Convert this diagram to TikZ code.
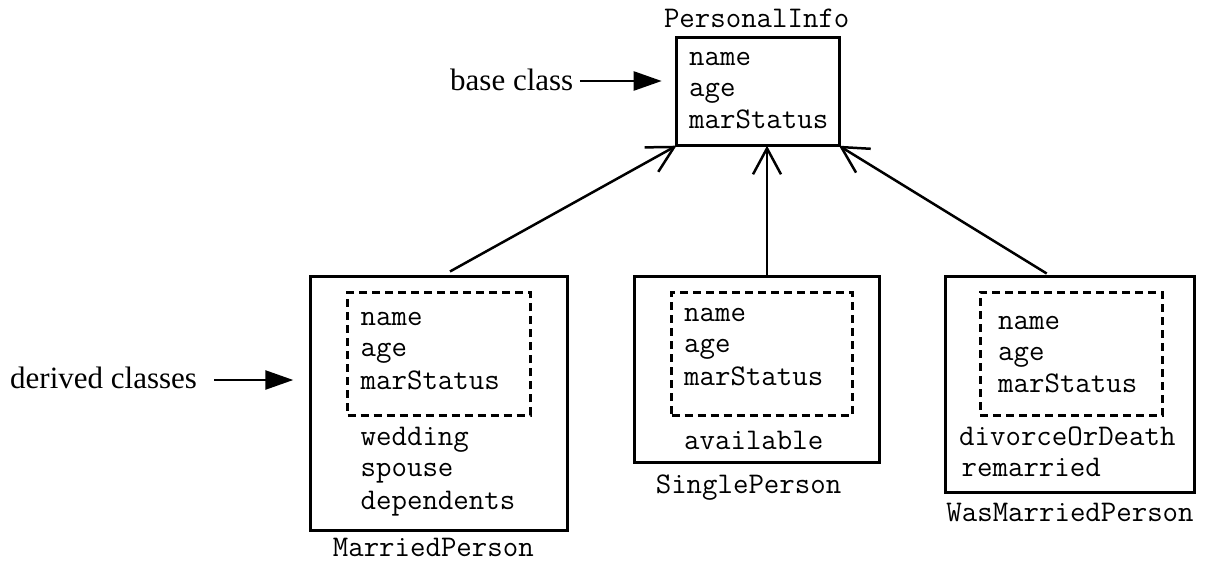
\documentclass[tikz,border=0pt]{standalone}
\usepackage{fontspec}
\setmainfont{Liberation Serif}
\usetikzlibrary{arrows.meta}

\begin{document}
\begin{tikzpicture}[x=1pt,y=-1pt,
  classbox/.style={draw, line width=3pt, inner sep=0pt, outer sep=0pt},
  inherited/.style={draw, line width=3pt, dash pattern=on 8pt off 5pt,
                    inner sep=0pt, outer sep=0pt},
  attr/.style={font=\ttfamily\fontsize{30}{34}\selectfont, anchor=base west, inner sep=0pt},
  cname/.style={font=\ttfamily\fontsize{30}{34}\selectfont, anchor=base, inner sep=0pt},
  note/.style={font=\fontsize{31}{36}\selectfont, anchor=base west, inner sep=0pt},
  isa/.style={line width=2.5pt, -{Straight Barb[length=26pt,width=28pt]}},
  pointer/.style={line width=2.5pt, -{Triangle[length=28pt,width=19pt]}}]

\useasboundingbox (0,0) rectangle (1205,565);

% base class
\node[classbox, minimum width=162.5pt, minimum height=108.7pt] (pi) at (757.75,91.35) {};
\node[cname] (piname) at (756.7,27) {PersonalInfo};
\node[attr] (pi1) at (689,65) {name};
\node[attr] (pi2) at (689,96.7) {age};
\node[attr] (pi3) at (689,128.3) {marStatus};

% MarriedPerson
\node[classbox, minimum width=256.6pt, minimum height=254pt] (mp) at (439,403) {};
\node[inherited, minimum width=182.3pt, minimum height=122.7pt] (mpin) at (438.85,353.65) {};
\node[attr] (mp1) at (360.5,325) {name};
\node[attr] (mp2) at (360.5,356.7) {age};
\node[attr] (mp3) at (360.5,389.3) {marStatus};
\node[attr] (mp4) at (360.5,445) {wedding};
\node[attr] (mp5) at (360.5,476.7) {spouse};
\node[attr] (mp6) at (360.5,509.3) {dependents};
\node[cname] (mpname) at (433.3,556.7) {MarriedPerson};

% SinglePerson
\node[classbox, minimum width=245.3pt, minimum height=186.7pt] (sp) at (756.65,369.35) {};
\node[inherited, minimum width=180.6pt, minimum height=122.7pt] (spin) at (762,353.65) {};
\node[attr] (sp1) at (684,321) {name};
\node[attr] (sp2) at (684,352.7) {age};
\node[attr] (sp3) at (684,385) {marStatus};
\node[attr] (sp4) at (684,449.3) {available};
\node[cname] (spname) at (748.5,493.3) {SinglePerson};

% WasMarriedPerson
\node[classbox, minimum width=248.3pt, minimum height=216.3pt] (wmp) at (1069.85,384.15) {};
\node[inherited, minimum width=182.7pt, minimum height=122.7pt] (wmpin) at (1071.35,353.65) {};
\node[attr] (wmp1) at (998,329) {name};
\node[attr] (wmp2) at (998,360.7) {age};
\node[attr] (wmp3) at (998,392.7) {marStatus};
\node[attr] (wmp4) at (959,445) {divorceOrDeath};
\node[attr] (wmp5) at (961.5,476.7) {remarried};
\node[cname] (wmpname) at (1070,521.7) {WasMarriedPerson};

% inheritance links
\draw[isa] ([shift={(139.3,-4.5)}]mp.north west) -- (pi.south west);
\draw[isa] ([xshift=10.35pt]sp.north) -- ([xshift=9.25pt]pi.south);
\draw[isa] ([shift={(-23.15,-2.5)}]wmp.north) -- (pi.south east);

% side labels
\node[note] (bc) at (450,90) {base class};
\coordinate (bctip) at (661.7,81);
\draw[pointer] ([xshift=6.5pt]bc.east |- bctip) -- (bctip);

\node[note] (dc) at (10,388.3) {derived classes};
\coordinate (dctip) at (293.3,380);
\draw[pointer] ([xshift=17pt]dc.east |- dctip) -- (dctip);
\end{tikzpicture}
\end{document}
